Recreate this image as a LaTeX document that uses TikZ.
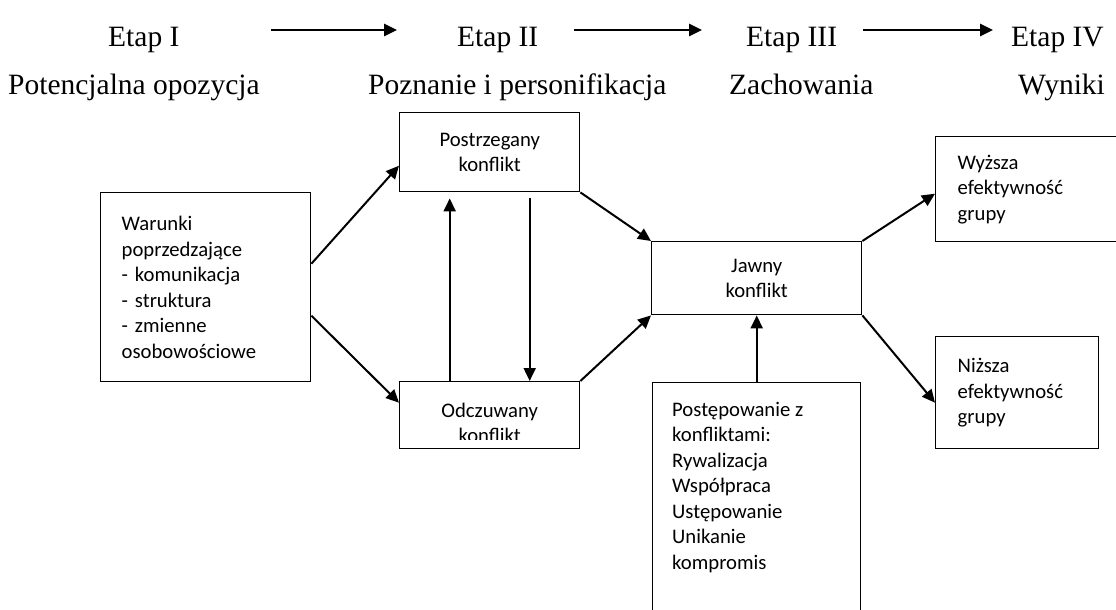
\documentclass[tikz,border=0pt]{standalone}
\usepackage{fontspec}
\setmainfont{Liberation Serif}
\newfontfamily\calibri{Carlito}
\usetikzlibrary{arrows.meta}

\begin{document}
\begin{tikzpicture}[x=1pt, y=-1pt,
  box/.style={draw, line width=1.4pt, rectangle, inner sep=0pt, anchor=north west,
    font=\calibri\fontsize{20.7}{25.5}\selectfont},
  txt/.style={inner sep=0pt, font=\calibri\fontsize{20.7}{25.5}\selectfont},
  etap/.style={anchor=base west, inner sep=0pt, font=\fontsize{29.5}{32}\selectfont},
  arr/.style={-{Triangle[length=13pt,width=12pt]}, line width=2pt}]
  \useasboundingbox (0,0) rectangle (1116,610);
  % Stages
  \node[etap] (etap1) at (108,47) {Etap I};
  \node[etap] (etap2) at (457,47) {Etap II};
  \node[etap] (etap3) at (746,47) {Etap III};
  \node[etap] (etap4) at (1011,47) {Etap IV};
  \node[etap] (faza1) at (8,94)    {Potencjalna opozycja};
  \node[etap] (faza2) at (368,94)  {Poznanie i personifikacja};
  \node[etap] (faza3) at (729,94)  {Zachowania};
  \node[etap] (faza4) at (1018,94) {Wyniki};
  \coordinate (s1) at (271,30); \coordinate (e1) at (397,30);
  \coordinate (s2) at (574,30); \coordinate (e2) at (702,30);
  \coordinate (s3) at (863,30); \coordinate (e3) at (993,30);
  \draw[arr, line width=2.6pt] (s1) -- (e1);
  \draw[arr, line width=2.6pt] (s2) -- (e2);
  \draw[arr, line width=2.6pt] (s3) -- (e3);
  % Boxes
  \node[box, minimum width=210pt, minimum height=189pt, text width=168pt, align=left] (war) at (100,192)
    {Warunki\\poprzedzające\\- komunikacja\\- struktura\\- zmienne\\osobowościowe};
  \node[box, minimum width=180pt, minimum height=79pt, text width=138pt, align=center] (postr) at (399,112)
    {Postrzegany\\konflikt};
  \node[box, minimum width=180pt, minimum height=67pt] (odcz) at (399,381) {};
  \begin{scope}
    \clip (odcz.north west) rectangle ([yshift=10pt]odcz.south east);
    \node[txt, align=center] (odczt) at ([yshift=-7.5pt]odcz.center) {Odczuwany\\konflikt};
  \end{scope}
  \node[box, minimum width=210pt, minimum height=73pt, text width=168pt, align=center] (jawny) at (651,241)
    {Jawny\\konflikt};
  \node[box, minimum width=208pt, minimum height=260pt] (post) at (652,382) {};
  \node[txt, anchor=north west, align=left] (postt) at ([shift={(20,19.7)}]post.north west)
    {Postępowanie z\\konfliktami:\\Rywalizacja\\Współpraca\\Ustępowanie\\Unikanie\\kompromis};
  \node[box, minimum width=190pt, minimum height=105pt, text width=146pt, align=left] (wyz) at (935,136)
    {Wyższa\\efektywność\\grupy};
  \node[box, minimum width=163pt, minimum height=112pt, text width=119pt, align=left] (niz) at (935,336)
    {Niższa\\efektywność\\grupy};
  % Arrows
  \draw[arr] ([yshift=23.5pt]war.east) -- ([yshift=-13.5pt]postr.west);
  \draw[arr] ([yshift=-28.5pt]war.east) -- ([yshift=12.5pt]odcz.west);
  \draw[arr] ([xshift=-40pt]odcz.north) -- ([xshift=-40pt,yshift=-6pt]postr.south);
  \draw[arr] ([xshift=40pt,yshift=-6pt]postr.south) -- ([xshift=40pt]odcz.north);
  \draw[arr] (postr.south east) -- (jawny.north west);
  \draw[arr] (odcz.north east) -- (jawny.south west);
  \draw[arr] (post.north) -- (jawny.south);
  \draw[arr] (jawny.north east) -- ([yshift=-4.5pt]wyz.west);
  \draw[arr] (jawny.south east) -- ([yshift=-10pt]niz.west);
\end{tikzpicture}
\end{document}
